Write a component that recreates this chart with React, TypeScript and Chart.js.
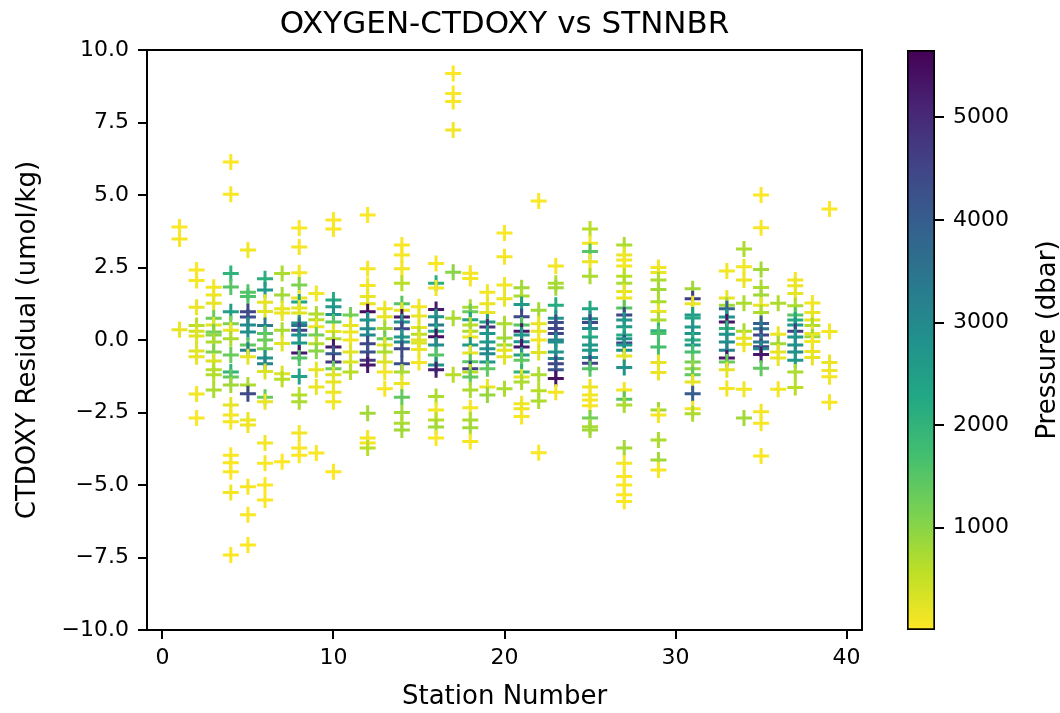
import React, { useEffect, useRef } from "react";
import { Chart, registerables } from "chart.js";

Chart.register(...registerables);

// ---------------- DATA ----------------
const stationNumbers = [1, 2, 3, 4, 5, 6, 7, 8, 9, 10, 11, 12, 13, 14, 15, 16, 17, 18, 19, 20, 21, 22, 23, 25, 27, 29, 31, 33, 34, 35, 36, 37, 38, 39];

const residuals: number[][] = [
  [3.9, 3.48, 0.35],
  [2.41, 2.05, 1.13, 0.5, 0.3, 0.14, -0.38, -0.58, -1.86, -2.69],
  [1.82, 1.55, 1.27, 0.75, 0.52, 0.28, 0.17, -0.07, -0.41, -0.72, -1.03, -1.2, -1.72],
  [6.14, 5.03, 2.29, 1.83, 0.97, 0.56, 0.34, 0.04, -0.52, -1.1, -1.28, -1.55, -2.24, -2.59, -2.82, -3.97, -4.23, -4.54, -5.26, -7.41],
  [3.1, 1.65, 1.5, 0.97, 0.79, 0.52, 0.28, -0.17, -0.35, -0.58, -1.55, -1.85, -2.76, -2.93, -5.06, -6.03, -7.07],
  [2.11, 1.72, 1.3, 0.98, 0.5, 0.22, 0.0, -0.3, -0.62, -0.82, -1.09, -1.97, -2.13, -3.55, -4.25, -5.0, -5.52],
  [2.29, 1.55, 1.08, 0.93, 0.34, -0.12, -1.16, -1.35, -4.2],
  [3.86, 3.21, 2.32, 1.9, 1.45, 1.31, 1.1, 0.93, 0.59, 0.5, 0.34, 0.17, -0.1, -0.45, -0.62, -1.26, -1.9, -2.13, -3.21, -3.72, -3.97],
  [1.6, 0.9, 0.7, 0.46, 0.17, -0.13, -0.38, -1.03, -1.62, -3.9],
  [4.14, 3.83, 1.38, 1.15, 0.88, 0.62, 0.29, 0.04, -0.24, -0.47, -0.76, -0.99, -1.2, -1.45, -1.8, -2.13, -4.54],
  [0.86, 0.5, 0.28, 0.0, -0.41, -0.76, -1.1],
  [4.31, 2.46, 1.88, 1.5, 1.25, 0.97, 0.69, 0.39, 0.17, -0.13, -0.41, -0.7, -0.86, -2.53, -3.38, -3.55, -3.72],
  [1.08, 0.8, 0.4, 0.04, -0.17, -0.41, -0.76, -1.1, -1.68],
  [3.28, 2.93, 2.46, 1.96, 1.25, 1.03, 0.79, 0.62, 0.39, 0.1, -0.07, -0.3, -0.82, -1.1, -1.5, -1.97, -2.5, -2.87, -3.1],
  [1.15, 0.83, 0.43, 0.2, 0.0, -0.1, -0.33, -0.78],
  [2.64, 1.96, 1.79, 1.05, 0.8, 0.52, 0.3, 0.11, -0.17, -0.52, -0.86, -1.03, -1.95, -2.41, -2.76, -3.0, -3.38],
  [9.19, 8.5, 8.22, 7.24, 2.34, 0.75, -1.2],
  [2.3, 2.12, 1.13, 0.97, 0.7, 0.52, 0.3, 0.1, -0.17, -0.45, -0.75, -0.99, -1.1, -1.28, -1.72, -2.34, -2.76, -3.03, -3.5],
  [1.65, 1.25, 0.95, 0.62, 0.45, 0.22, -0.07, -0.3, -0.47, -0.76, -0.99, -1.62, -1.9],
  [3.69, 2.87, 1.9, 1.42, 0.56, 0.07, -0.17, -0.35, -0.58, -1.68],
  [1.8, 1.52, 1.22, 0.8, 0.52, 0.3, 0.17, -0.06, -0.24, -0.52, -0.7, -1.1, -1.28, -1.45, -2.2, -2.37, -2.64],
  [4.79, 1.03, 0.56, 0.3, 0.0, -0.43, -1.2, -1.75, -2.1, -3.89],
  [2.55, 1.96, 1.8, 1.2, 0.75, 0.6, 0.4, 0.22, 0.0, -0.07, -0.41, -0.64, -0.82, -1.03, -1.33, -1.8],
  [3.83, 3.34, 3.05, 2.7, 2.2, 1.08, 0.73, 0.6, 0.4, 0.1, -0.17, -0.35, -0.6, -0.8, -0.99, -1.62, -1.9, -2.07, -2.27, -2.69, -2.99, -3.1],
  [3.28, 2.93, 2.76, 2.55, 2.2, 1.96, 1.67, 1.45, 1.1, 0.86, 0.69, 0.46, 0.17, 0.04, -0.1, -0.17, -0.35, -0.55, -0.95, -1.72, -2.04, -2.24, -3.72, -4.25, -4.71, -5.0, -5.34, -5.57],
  [2.5, 2.33, 2.07, 1.74, 1.32, 0.98, 0.69, 0.32, 0.22, -0.24, -0.78, -1.12, -2.41, -2.59, -3.45, -4.14, -4.48],
  [1.77, 1.42, 1.25, 0.86, 0.76, 0.45, 0.22, 0.0, -0.17, -0.41, -0.76, -0.99, -1.2, -1.45, -1.85, -2.37, -2.54],
  [2.38, 1.45, 1.2, 1.08, 0.79, 0.62, 0.4, 0.2, -0.07, -0.35, -0.62, -0.76, -1.03, -1.67],
  [3.14, 2.53, 2.07, 1.27, 0.3, 0.06, -0.15, -1.7, -2.69],
  [5.0, 3.87, 2.43, 1.81, 1.55, 1.2, 0.95, 0.57, 0.39, 0.17, -0.07, -0.23, -0.3, -0.5, -0.97, -2.47, -2.87, -4.0],
  [1.27, 0.2, -0.13, -0.41, -0.62, -1.7],
  [2.07, 1.87, 1.6, 1.18, 0.86, 0.69, 0.52, 0.3, 0.1, -0.17, -0.41, -0.7, -1.1, -1.64],
  [1.28, 0.95, 0.69, 0.5, 0.22, 0.11, -0.05, -0.4, -0.6],
  [4.52, 0.29, -0.78, -1.05, -1.27, -2.15],
];

const pressures: number[][] = [
  [20, 60, 180],
  [30, 60, 150, 600, 400, 250, 300, 200, 100, 20],
  [80, 120, 200, 1300, 250, 1200, 1000, 700, 1100, 300, 600, 650, 700],
  [20, 40, 2000, 1500, 2500, 1100, 150, 700, 1300, 2000, 1400, 800, 200, 100, 60, 30, 50, 10, 80, 5],
  [100, 1500, 1600, 4500, 4300, 3000, 2900, 1400, 3200, 200, 700, 4400, 150, 120, 50, 20, 10],
  [2100, 2600, 200, 250, 3300, 1500, 1300, 1200, 2800, 3100, 300, 1400, 150, 80, 40, 20, 10],
  [700, 800, 200, 150, 700, 250, 300, 600, 20],
  [30, 60, 100, 1100, 150, 2300, 200, 250, 2700, 3500, 4600, 2900, 2600, 5300, 1500, 2400, 600, 700, 80, 40, 20],
  [100, 700, 600, 150, 1200, 600, 1000, 200, 150, 20],
  [20, 40, 2200, 2600, 2800, 1500, 200, 700, 5300, 4000, 4700, 1300, 300, 200, 150, 100, 10],
  [1200, 200, 150, 100, 250, 300, 600],
  [20, 60, 100, 150, 200, 5500, 2800, 2900, 3000, 4500, 4200, 4700, 5300, 800, 80, 50, 600],
  [150, 200, 800, 1300, 250, 700, 300, 100, 50],
  [40, 60, 80, 600, 1500, 200, 5300, 2800, 4500, 2700, 2900, 4400, 4300, 700, 150, 1400, 800, 700, 800],
  [100, 150, 200, 600, 250, 300, 150, 100],
  [50, 2100, 100, 5300, 2700, 3400, 2400, 5400, 2900, 1500, 2800, 5200, 700, 100, 600, 800, 30],
  [10, 30, 50, 80, 1000, 700, 600],
  [80, 100, 700, 1300, 2400, 600, 700, 150, 2600, 200, 1500, 4600, 600, 1400, 700, 100, 700, 800, 50],
  [100, 150, 200, 2500, 4800, 2700, 2600, 2800, 3100, 2700, 1400, 150, 900],
  [30, 60, 100, 150, 700, 800, 900, 200, 250, 700],
  [800, 700, 2600, 4400, 1500, 5300, 2700, 2800, 5300, 2500, 1400, 2000, 200, 700, 100, 150, 60],
  [20, 800, 200, 150, 100, 250, 700, 600, 700, 30],
  [80, 700, 800, 2200, 2800, 4300, 4400, 4500, 3200, 2900, 2700, 3000, 4500, 4200, 5400, 100],
  [600, 100, 1500, 150, 700, 2300, 2800, 4400, 2900, 2200, 2700, 2600, 2800, 4500, 1500, 150, 100, 80, 60, 1200, 700, 800],
  [700, 150, 100, 80, 600, 700, 200, 150, 1500, 4500, 2700, 2600, 2200, 2800, 4600, 2700, 2900, 200, 2800, 100, 1500, 700, 800, 60, 40, 30, 20, 10],
  [100, 150, 700, 800, 700, 200, 700, 2000, 1600, 1700, 200, 150, 800, 100, 700, 800, 60],
  [800, 4600, 150, 2700, 2300, 2600, 2800, 2100, 2700, 1700, 1200, 900, 1400, 200, 4000, 100, 700],
  [100, 150, 800, 3800, 2800, 5300, 2000, 2700, 2900, 3200, 5300, 1300, 200, 100],
  [700, 100, 150, 700, 700, 200, 150, 100, 800],
  [20, 40, 800, 700, 800, 150, 700, 4000, 3400, 4500, 3400, 4600, 3000, 5300, 1400, 100, 60, 30],
  [700, 150, 800, 200, 150, 100],
  [100, 150, 200, 700, 1500, 2200, 2600, 4600, 2700, 2800, 2900, 2700, 700, 600],
  [100, 150, 200, 700, 150, 800, 100, 150, 200],
  [20, 100, 150, 120, 80, 60],
];

const xTicks = [0, 10, 20, 30, 40];
const yTicks = [-10, -7.5, -5, -2.5, 0, 2.5, 5, 7.5, 10];
const cbTicks = [1000, 2000, 3000, 4000, 5000];
const pressureMin = 3;
const pressureMax = 5657;

// ---------------- STYLE ----------------
const FONT = "'DejaVu Sans', sans-serif";
const VIRIDIS = [
  "#440154", "#482475", "#414487", "#355f8d", "#2a788e", "#21918c",
  "#22a884", "#44bf70", "#7ad151", "#bddf26", "#fde725",
];

function hexToRgb(h: string) {
  return [parseInt(h.slice(1, 3), 16), parseInt(h.slice(3, 5), 16), parseInt(h.slice(5, 7), 16)];
}

// viridis reversed: low pressure -> yellow, high -> purple
function pressureColor(p: number) {
  let t = (p - pressureMin) / (pressureMax - pressureMin);
  t = Math.max(0, Math.min(1, t));
  const v = 1 - t;
  const pos = v * (VIRIDIS.length - 1);
  const i = Math.min(VIRIDIS.length - 2, Math.floor(pos));
  const f = pos - i;
  const a = hexToRgb(VIRIDIS[i]);
  const b = hexToRgb(VIRIDIS[i + 1]);
  const c = a.map((x, k) => Math.round(x + (b[k] - x) * f));
  return `rgb(${c[0]},${c[1]},${c[2]})`;
}

function fmtY(v: number) {
  const s = Math.abs(v).toFixed(1);
  return v < 0 ? "\u2212" + s : s;
}

const framePlugin = {
  id: "frame",
  afterDatasetsDraw(chart: any) {
    const { ctx, chartArea: a } = chart;
    ctx.save();
    ctx.strokeStyle = "#000";
    ctx.lineWidth = 2;
    ctx.strokeRect(a.left, a.top, a.right - a.left, a.bottom - a.top);
    ctx.restore();
  },
};

const cbLabelPlugin = {
  id: "cbLabel",
  afterDraw(chart: any) {
    const { ctx } = chart;
    ctx.save();
    ctx.translate(168, 340);
    ctx.rotate(-Math.PI / 2);
    ctx.fillStyle = "#000";
    ctx.font = `26px ${FONT}`;
    ctx.textAlign = "center";
    ctx.textBaseline = "middle";
    ctx.fillText("Pressure (dbar)", 0, 0);
    ctx.restore();
  },
};

export default function App() {
  const mainRef = useRef<HTMLCanvasElement>(null);
  const cbRef = useRef<HTMLCanvasElement>(null);

  useEffect(() => {
    const points: { x: number; y: number; p: number }[] = [];
    stationNumbers.forEach((s, i) => {
      residuals[i].forEach((r, j) => {
        points.push({ x: s, y: r, p: pressures[i][j] });
      });
    });

    const tickFont = { family: FONT, size: 22 };
    const labelFont = { family: FONT, size: 26 };

    const main = new Chart(mainRef.current!, {
      type: "scatter",
      data: {
        datasets: [
          {
            data: points as any,
            pointStyle: "cross",
            pointRadius: 8,
            pointHoverRadius: 8,
            pointBorderWidth: 3,
            pointBorderColor: (ctx: any) => pressureColor(ctx.raw ? ctx.raw.p : 0),
            pointBackgroundColor: (ctx: any) => pressureColor(ctx.raw ? ctx.raw.p : 0),
          } as any,
        ],
      },
      options: {
        animation: false,
        responsive: false,
        events: [],
        layout: { padding: { left: 0, right: 198, top: 0, bottom: 0 } },
        plugins: {
          legend: { display: false },
          tooltip: { enabled: false },
          title: {
            display: true,
            fullSize: false,
            text: "OXYGEN-CTDOXY vs STNNBR",
            color: "#000",
            font: { family: FONT, size: 31, weight: "normal" as any },
            padding: { top: 6, bottom: 6.8 },
          },
        },
        scales: {
          x: {
            type: "linear",
            min: -0.9,
            max: 40.9,
            afterBuildTicks: (s: any) => {
              s.ticks = xTicks.map((v) => ({ value: v }));
            },
            afterFit: (s: any) => {
              s.height = 83;
            },
            ticks: {
              color: "#000",
              font: tickFont,
              padding: 6,
              maxRotation: 0,
              callback: (v: any) => String(v),
            },
            grid: { display: true, drawOnChartArea: false, drawTicks: true, tickLength: 9, color: "#000", lineWidth: 2 },
            border: { display: true, color: "#000", width: 2 },
            title: {
              display: true,
              text: "Station Number",
              color: "#000",
              font: labelFont,
              padding: { top: 0, bottom: 0 },
            },
          },
          y: {
            type: "linear",
            min: -10,
            max: 10,
            afterBuildTicks: (s: any) => {
              s.ticks = yTicks.map((v) => ({ value: v }));
            },
            afterFit: (s: any) => {
              s.width = 147;
            },
            ticks: {
              color: "#000",
              font: tickFont,
              padding: 9,
              callback: (v: any) => fmtY(Number(v)),
            },
            grid: { display: true, drawOnChartArea: false, drawTicks: true, tickLength: 9, color: "#000", lineWidth: 2 },
            border: { display: true, color: "#000", width: 2 },
            title: {
              display: true,
              text: "CTDOXY Residual (umol/kg)",
              color: "#000",
              font: labelFont,
              padding: { top: 13, bottom: 0 },
            },
          },
        },
      },
      plugins: [framePlugin],
    });

    const cb = new Chart(cbRef.current!, {
      type: "bar",
      data: {
        labels: ["p"],
        datasets: [
          {
            data: [[pressureMin, pressureMax]] as any,
            backgroundColor: (ctx: any) => {
              const chart = ctx.chart;
              const a = chart.chartArea;
              if (!a) return "#888";
              const g = chart.ctx.createLinearGradient(0, a.bottom, 0, a.top);
              VIRIDIS.forEach((c, k) => {
                g.addColorStop(k / (VIRIDIS.length - 1), VIRIDIS[VIRIDIS.length - 1 - k]);
              });
              return g;
            },
            borderColor: "#000",
            borderWidth: 2,
            borderSkipped: false,
            barPercentage: 1,
            categoryPercentage: 1,
          } as any,
        ],
      },
      options: {
        animation: false,
        responsive: false,
        events: [],
        layout: { padding: { left: 27, right: 0, top: 50, bottom: 83 } },
        plugins: { legend: { display: false }, tooltip: { enabled: false } },
        scales: {
          x: { display: false },
          y: {
            position: "right",
            type: "linear",
            min: pressureMin,
            max: pressureMax,
            afterBuildTicks: (s: any) => {
              s.ticks = cbTicks.map((v) => ({ value: v }));
            },
            afterFit: (s: any) => {
              s.width = 125;
            },
            ticks: {
              color: "#000",
              font: tickFont,
              padding: 9,
              callback: (v: any) => String(v),
            },
            grid: { display: true, drawOnChartArea: false, drawTicks: true, tickLength: 9, color: "#000", lineWidth: 2 },
            border: { display: false },
          },
        },
      },
      plugins: [cbLabelPlugin],
    });

    return () => {
      main.destroy();
      cb.destroy();
    };
  }, []);

  return (
    <div style={{ position: "absolute", left: 0, top: 0, width: 1060, height: 713, background: "#fff" }}>
      <canvas ref={mainRef} width={1060} height={713} style={{ position: "absolute", left: 0, top: 0 }} />
      <canvas ref={cbRef} width={180} height={713} style={{ position: "absolute", left: 880, top: 0 }} />
    </div>
  );
}
